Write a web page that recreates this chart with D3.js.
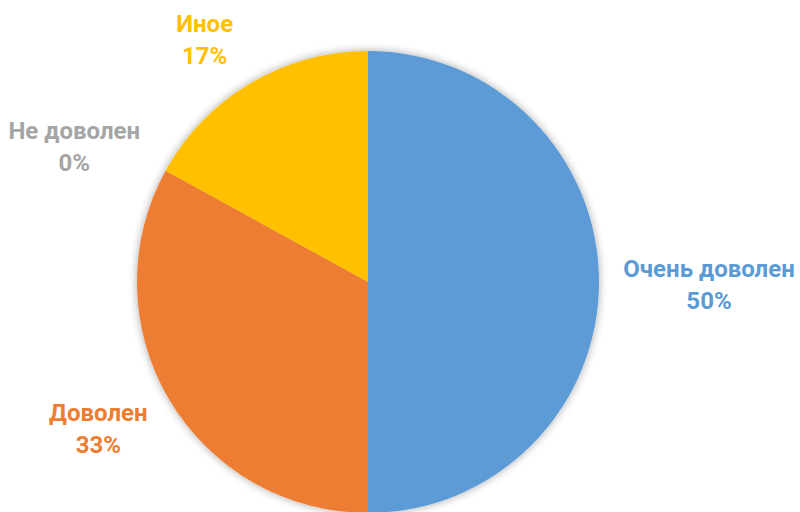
<!DOCTYPE html>
<html>
<head>
<meta charset="utf-8">
<script src="https://cdn.jsdelivr.net/npm/d3@7"></script>
<style>
  html, body { margin: 0; padding: 0; background: #ffffff; }
  svg { display: block; }
</style>
</head>
<body>
<script>
// ---- data ----
const categories = ["Очень доволен", "Доволен", "Не доволен", "Иное"];
const values = [50, 33, 0, 17];
const percentLabels = ["50%", "33%", "0%", "17%"];
const colors = ["#5B9BD5", "#ED7D31", "#A5A5A5", "#FFC000"];

// ---- layout ----
const W = 800, H = 512;
const cx = 368, cy = 282, R = 231;
const labelGap = 20;
const fontSize = 24, lineGap = 32;
const labelNudge = [[2, 3], [-12, -5], [-29, 11], [-21, -1]];
const refWidths = [176, 100, 136, 60]; // label block widths used for outside-end placement

const svg = d3.select("body").append("svg").attr("width", W).attr("height", H);

const defs = svg.append("defs");
const f = defs.append("filter").attr("id", "shadow")
  .attr("x", "-20%").attr("y", "-20%").attr("width", "140%").attr("height", "140%");
f.append("feDropShadow").attr("dx", 0).attr("dy", 0).attr("stdDeviation", 4)
  .attr("flood-color", "#000").attr("flood-opacity", 0.35);

const pie = d3.pie().sort(null).value(d => d);
const arcs = pie(values);
const arc = d3.arc().innerRadius(0).outerRadius(R);

const g = svg.append("g").attr("transform", `translate(${cx},${cy})`);
g.append("g").attr("filter", "url(#shadow)")
  .selectAll("path").data(arcs).join("path")
  .attr("d", arc)
  .attr("fill", (d, i) => colors[i]);

const lg = g.append("g")
  .attr("font-family", "Roboto, 'Noto Sans', sans-serif")
  .attr("font-weight", "bold")
  .attr("font-size", fontSize)
  .attr("text-anchor", "middle");

arcs.forEach((d, i) => {
  const t = lg.append("text").attr("fill", colors[i]);
  t.append("tspan").attr("x", 0).attr("y", -lineGap / 2).text(categories[i]);
  t.append("tspan").attr("x", 0).attr("y", lineGap / 2).text(percentLabels[i]);
  const w = refWidths[i];
  const h = lineGap + fontSize * 0.72;
  const a = (d.startAngle + d.endAngle) / 2;
  const dx = Math.sin(a), dy = -Math.cos(a);
  const tx = Math.abs(dx) > 1e-6 ? (w / 2) / Math.abs(dx) : Infinity;
  const ty = Math.abs(dy) > 1e-6 ? (h / 2) / Math.abs(dy) : Infinity;
  const dist = R + labelGap + Math.min(tx, ty);
  const px = dx * dist + labelNudge[i][0];
  const py = dy * dist + labelNudge[i][1];
  t.attr("transform", `translate(${px},${py + 16 / 2})`);
});
</script>
</body>
</html>
